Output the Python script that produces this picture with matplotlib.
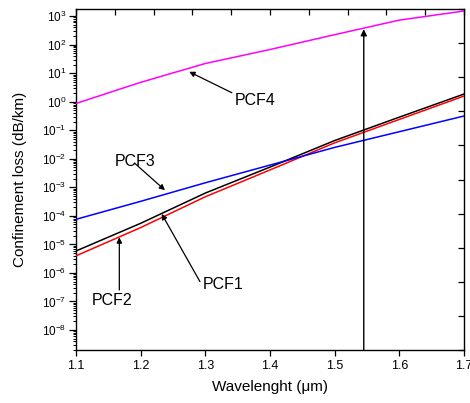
import numpy as np
import matplotlib
matplotlib.use("Agg")
import matplotlib.pyplot as plt
from matplotlib.ticker import LogLocator, LogFormatterSciNotation, NullFormatter, FixedLocator

plt.rcParams["font.family"] = ["Liberation Sans", "DejaVu Sans"]
plt.rcParams["mathtext.fontset"] = "custom"
plt.rcParams["mathtext.rm"] = "Liberation Sans"
plt.rcParams["mathtext.it"] = "Liberation Sans:italic"
plt.rcParams["mathtext.default"] = "regular"

# Wavelength (um) and log10 of confinement loss (dB/km)
wavelength = [1.1, 1.2, 1.3, 1.4, 1.5, 1.6, 1.7]
log_pcf1 = [-5.23, -4.26, -3.20, -2.29, -1.36, -0.54, 0.27]
log_pcf2 = [-5.40, -4.41, -3.33, -2.39, -1.44, -0.62, 0.20]
log_pcf3 = [-4.12, -3.49, -2.84, -2.22, -1.60, -1.05, -0.50]
log_pcf4 = [-0.06, 0.68, 1.34, 1.83, 2.35, 2.86, 3.18]

series = [
    ("PCF1", log_pcf1, "#000000"),
    ("PCF2", log_pcf2, "#ff0000"),
    ("PCF3", log_pcf3, "#0000ff"),
    ("PCF4", log_pcf4, "#ff00ff"),
]

x_ticks = [1.1, 1.2, 1.3, 1.4, 1.5, 1.6, 1.7]
marker_wavelength = 1.545
marker_top = 10 ** 2.54

fig = plt.figure(figsize=(4.70, 4.03), dpi=100)
pos = [76 / 470, 1 - 350 / 403, (464 - 76) / 470, (350 - 9) / 403]
ax = fig.add_axes(pos)

for name, vals, color in series:
    ax.plot(wavelength, 10 ** np.array(vals), color=color, lw=1.1, zorder=3)

ax.set_yscale("log")
ax.set_xlim(1.1, 1.7)
ymin, ymax = 10 ** -8.70, 10 ** 3.25
ax.set_ylim(ymin, ymax)

ax.xaxis.set_major_locator(FixedLocator(x_ticks))
ax.set_xticklabels([f"{v:.1f}" for v in x_ticks])
ax.yaxis.set_major_locator(LogLocator(base=10, numticks=20))
ax.yaxis.set_minor_locator(LogLocator(base=10, subs=np.arange(2, 10), numticks=20))
ax.yaxis.set_major_formatter(LogFormatterSciNotation())
ax.yaxis.set_minor_formatter(NullFormatter())

ax.tick_params(axis="x", which="major", direction="out", length=4, width=0.9,
               labelsize=9, pad=3, top=False)
ax.tick_params(axis="x", which="minor", bottom=False, top=False)
ax.tick_params(axis="y", which="major", direction="out", length=5, width=0.9,
               labelsize=8.5, pad=2, right=False)
ax.tick_params(axis="y", which="minor", direction="out", length=2.5, width=0.7,
               right=False)
for sp in ax.spines.values():
    sp.set_linewidth(1.0)

ax.set_xlabel("Wavelenght (\u03bcm)", fontsize=11, labelpad=6)
ax.set_ylabel("Confinement loss (dB/km)", fontsize=11, labelpad=11)

# frame ticks on the top and right edges, ten equal divisions
frame = fig.add_axes(pos, frameon=False)
frame.set_xlim(0, 1)
frame.set_ylim(0, 1)
frame.patch.set_alpha(0)
frame.set_xticks(np.linspace(0, 1, 11))
frame.set_yticks(np.linspace(0, 1, 11))
frame.tick_params(axis="both", which="major", direction="in", length=4, width=0.9,
                  bottom=False, left=False, top=True, right=True,
                  labelbottom=False, labelleft=False, labeltop=False, labelright=False)

# vertical marker at the operating wavelength
ax.annotate("", xy=(marker_wavelength, marker_top), xytext=(marker_wavelength, ymin),
            arrowprops=dict(arrowstyle="-|>", lw=1.0, color="black",
                            mutation_scale=9, shrinkA=0, shrinkB=0), zorder=4)

# curve labels: (text position, arrow tail, arrow tip) in (wavelength, log10 loss)
labels = [
    ("PCF4", (1.377, 0.06), (1.341, 0.315), (1.275, 1.05)),
    ("PCF3", (1.192, -2.08), (1.191, -2.16), (1.2376, -3.10)),
    ("PCF1", (1.327, -6.40), (1.2917, -6.305), (1.2325, -3.93)),
    ("PCF2", (1.1557, -6.95), (1.167, -6.595), (1.167, -4.75)),
]
for name, tpos, tail, tip in labels:
    ax.text(tpos[0], 10 ** tpos[1], name, fontsize=11.5, ha="center", va="center", zorder=5)
    ax.annotate("", xy=(tip[0], 10 ** tip[1]), xytext=(tail[0], 10 ** tail[1]),
                arrowprops=dict(arrowstyle="-|>", lw=0.9, color="black",
                                mutation_scale=8, shrinkA=0, shrinkB=0), zorder=4)

fig.savefig("out.png", dpi=100)
